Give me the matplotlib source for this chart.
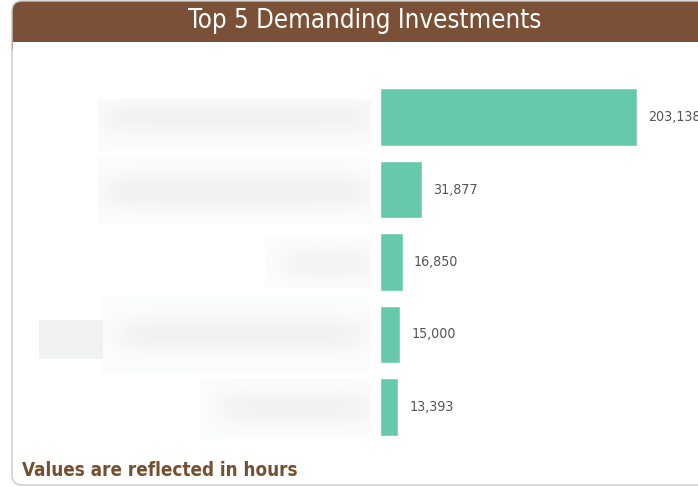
import numpy as np
import matplotlib
matplotlib.use("Agg")
import matplotlib.pyplot as plt
from matplotlib.patches import FancyBboxPatch, Rectangle

# ---- data ----
categories = ["Investment 1", "Investment 2", "Investment 3", "Investment 4", "Investment 5"]  # labels are blurred in the source
hours = [203138, 31877, 16850, 15000, 13393]
title = "Top 5 Demanding Investments"
footer = "Values are reflected in hours"

W, H = 698, 487
DPI = 100
BAR_COLOR = "#66c9ac"
BROWN = "#7a5137"
FOOT_BROWN = "#74502f"
LABEL_GRAY = "#555555"
FAM = ["DejaVu Sans"]

fig = plt.figure(figsize=(W / DPI, H / DPI), dpi=DPI)
fig.patch.set_facecolor("white")

# ---- background / card decoration in pixel coordinates ----
bg = fig.add_axes([0, 0, 1, 1], zorder=0)
bg.set_xlim(0, W)
bg.set_ylim(H, 0)
bg.axis("off")

# blurred (redacted) category labels, rendered as a soft image
yy, xx = np.mgrid[0:H, 0:W].astype(float)

def soft(a, lo, hi, s):
    return 0.5 * (np.tanh((a - lo) / s) - np.tanh((a - hi) / s))

dark = np.zeros((H, W))
# (crop x0, x1, y0, y1, text x0, x1, yc, half h, amplitude)
blobs = [
    (98, 370, 99, 150, 105, 368, 117, 12, 0.75),
    (98, 370, 157, 223, 105, 368, 191, 13, 0.75),
    (265, 370, 236, 287, 285, 368, 262, 11, 0.7),
    (100, 370, 297, 372, 120, 362, 334, 12, 0.75),
    (200, 370, 378, 438, 220, 368, 407, 12, 0.7),
]
for x0, x1, y0, y1, tx0, tx1, yc, hh, amp in blobs:
    crop = ((xx >= x0) & (xx <= x1) & (yy >= y0) & (yy <= y1)).astype(float)
    shape = soft(xx, tx0, tx1, 16) * soft(yy, yc - hh, yc + hh, 12) * amp
    dark = np.maximum(dark, crop * (0.15 + shape))
# small hard grey patch left of 4th label
patch = ((xx >= 39) & (xx <= 102) & (yy >= 320) & (yy <= 358)).astype(float)
dark = np.maximum(dark, patch * 0.75)
dark = np.clip(dark, 0, 1)
level = 1 - dark * (1 - 0.925)
img = np.dstack([level, level * 1.002, level * 1.002, np.ones_like(level)])
img = np.clip(img, 0, 1)

card_face = FancyBboxPatch((12, 1), 720, 484, boxstyle="round,pad=0,rounding_size=10",
                           facecolor="white", edgecolor="none", zorder=1)
bg.add_patch(card_face)
bg.imshow(img, extent=(0, W, H, 0), zorder=2, interpolation="bilinear", aspect="auto")
# title bar
bar_top = FancyBboxPatch((12, 1), 720, 56, boxstyle="round,pad=0,rounding_size=10",
                         facecolor=BROWN, edgecolor="none", zorder=3)
bg.add_patch(bar_top)
bg.add_patch(Rectangle((12.5, 42), 720, 20, facecolor="white", edgecolor="none", zorder=4))
card_edge = FancyBboxPatch((12, 1), 720, 484, boxstyle="round,pad=0,rounding_size=10",
                           facecolor="none", edgecolor="#c9c9c9", linewidth=1.0, zorder=5)
bg.add_patch(card_edge)
bg.set_xlim(0, W)
bg.set_ylim(H, 0)

bg.text(365, 21, title, color="white", fontsize=18.5, ha="center", va="center",
        family=FAM, fontstretch="condensed", zorder=6)
bg.text(22, 471, footer, color=FOOT_BROWN, fontsize=13.5, fontweight="bold",
        ha="left", va="center", family=FAM, fontstretch="condensed", zorder=6)

# ---- bar chart ----
ax_left, ax_top, row_h = 380.5, 80.75, 72.5
ax = fig.add_axes([ax_left / W, (H - ax_top - row_h * len(hours)) / H,
                   (W - ax_left) / W, row_h * len(hours) / H], zorder=3)
ax.patch.set_alpha(0)
ypos = np.arange(len(hours))
bars = ax.barh(ypos, hours, height=0.77, color=BAR_COLOR, edgecolor="#7fd3ba", linewidth=0.6)
ax.set_ylim(len(hours) - 0.5, -0.5)
ax.set_xlim(0, 252700)
for b, v in zip(bars, hours):
    ax.annotate(f"{v:,}", xy=(b.get_width(), b.get_y() + b.get_height() / 2),
                xytext=(12, 0), textcoords="offset pixels", ha="left", va="center",
                fontsize=10.2, color=LABEL_GRAY, family=FAM, fontstretch="condensed",
                annotation_clip=False)
ax.set_yticks(ypos)
ax.set_yticklabels([])
ax.tick_params(left=False, bottom=False, labelbottom=False)
for s in ax.spines.values():
    s.set_visible(False)

fig.savefig("out.png", dpi=DPI, facecolor="white")
